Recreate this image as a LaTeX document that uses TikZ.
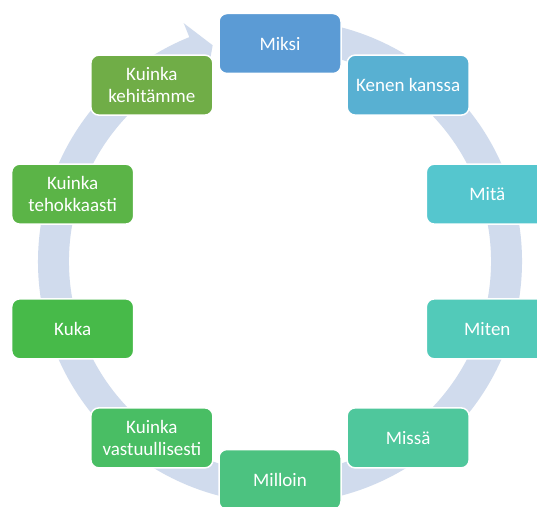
\documentclass[tikz,border=0pt]{standalone}
\usepackage{fontspec}
\setmainfont{Carlito}
\definecolor{band}{RGB}{208,219,237}
\definecolor{c0}{RGB}{91,155,213}
\definecolor{c1}{RGB}{88,176,210}
\definecolor{c2}{RGB}{85,198,206}
\definecolor{c3}{RGB}{82,202,185}
\definecolor{c4}{RGB}{79,199,156}
\definecolor{c5}{RGB}{76,194,128}
\definecolor{c6}{RGB}{73,190,100}
\definecolor{c7}{RGB}{71,186,73}
\definecolor{c8}{RGB}{91,180,71}
\definecolor{c9}{RGB}{112,173,71}
\tikzset{
  stepbox/.style={draw=white, line width=1.5pt, rounded corners=8pt,
    minimum width=122pt, minimum height=60pt, inner sep=2pt,
    text=white, align=center,
    font=\fontsize{19}{22}\selectfont},
  ringband/.style={fill=band, draw=none}
}
\begin{document}
\begin{tikzpicture}[x=1pt,y=1pt]
\useasboundingbox (0,0) rectangle (537,506);
\clip (0,0) rectangle (537,506);
\fill[white] (0,0) rectangle (537,506);
\begin{scope}[shift={(280,244.5)}]
  \fill[band] (85:242pt) arc[start angle=85, end angle=-248, radius=242pt]
    -- (-248:257pt) -- (-252.7:226.5pt) -- (-248:196pt) -- (-248:211pt)
    arc[start angle=-248, end angle=85, radius=211pt] -- cycle;
  \node[stepbox, fill=c0] (n0) at (90:218pt) {Miksi};
  \node[stepbox, fill=c1] (n1) at (54:218pt) {Kenen kanssa};
  \node[stepbox, fill=c2] (n2) at (18:218pt) {Mitä};
  \node[stepbox, fill=c3] (n3) at (-18:218pt) {Miten};
  \node[stepbox, fill=c4] (n4) at (-54:218pt) {Missä};
  \node[stepbox, fill=c5] (n5) at (-90:218pt) {Milloin};
  \node[stepbox, fill=c6] (n6) at (-126:218pt) {Kuinka\\vastuullisesti};
  \node[stepbox, fill=c7] (n7) at (-162:218pt) {Kuka};
  \node[stepbox, fill=c8] (n8) at (162:218pt) {Kuinka\\tehokkaasti};
  \node[stepbox, fill=c9] (n9) at (126:218pt) {Kuinka\\kehitämme};
\end{scope}
\end{tikzpicture}
\end{document}
